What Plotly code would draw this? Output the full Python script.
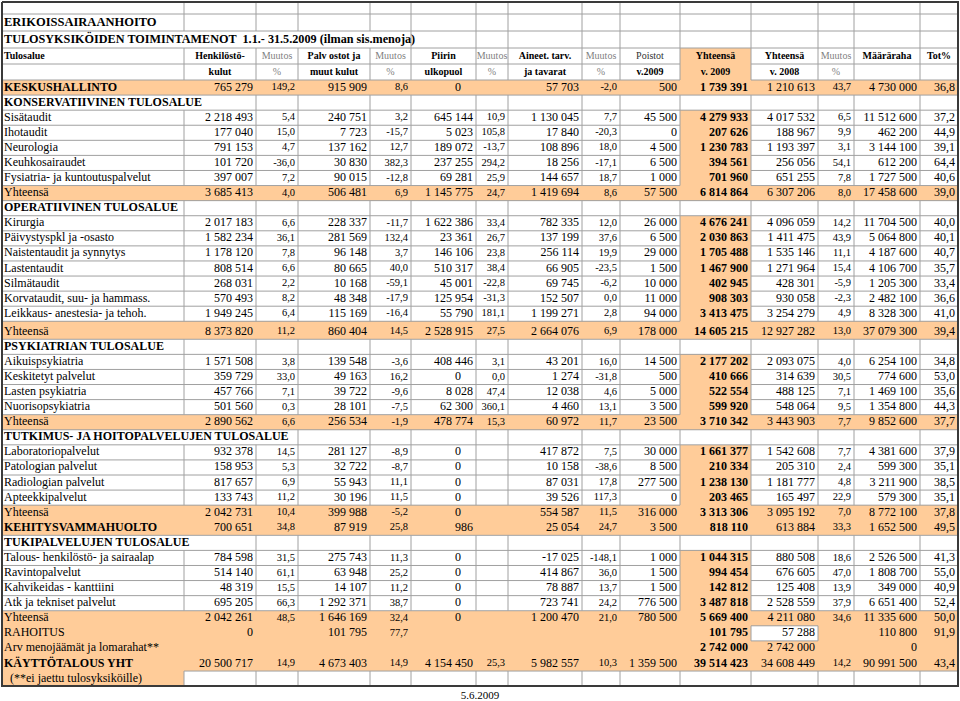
import plotly.graph_objects as go

# ---------------- DATA ----------------
title_1 = "ERIKOISSAIRAANHOITO"
title_2 = "TULOSYKSIKÖIDEN TOIMINTAMENOT  1.1.- 31.5.2009 (ilman sis.menoja)"
date_label = "5.6.2009"

header_top = ["Tulosalue", "Henkilöstö-", "Muutos", "Palv ostot ja", "Muutos", "Piirin", "Muutos",
              "Aineet. tarv.", "Muutos", "Poistot", "Yhteensä", "Yhteensä", "Muutos", "Määräraha", "Tot%"]
header_bottom = ["", "kulut", "%", "muut kulut", "%", "ulkopuol", "%", "ja tavarat", "%",
                 "v.2009", "v. 2009", "v. 2008", "%", "", ""]

row_labels = [
    "KESKUSHALLINTO", "KONSERVATIIVINEN TULOSALUE", "Sisätaudit", "Ihotaudit", "Neurologia",
    "Keuhkosairaudet", "Fysiatria- ja kuntoutuspalvelut", "Yhteensä",
    "OPERATIIVINEN TULOSALUE", "Kirurgia", "Päivystyspkl ja -osasto", "Naistentaudit ja synnytys",
    "Lastentaudit", "Silmätaudit", "Korvataudit, suu- ja hammass.", "Leikkaus- anestesia- ja tehoh.", "Yhteensä",
    "PSYKIATRIAN TULOSALUE", "Aikuispsykiatria", "Keskitetyt palvelut", "Lasten psykiatria",
    "Nuorisopsykiatria", "Yhteensä",
    "TUTKIMUS- JA HOITOPALVELUJEN TULOSALUE", "Laboratoriopalvelut", "Patologian palvelut",
    "Radiologian palvelut", "Apteekkipalvelut", "Yhteensä",
    "KEHITYSVAMMAHUOLTO", "TUKIPALVELUJEN TULOSALUE", "Talous- henkilöstö- ja sairaalap",
    "Ravintopalvelut", "Kahvikeidas - kanttiini", "Atk ja tekniset palvelut", "Yhteensä",
    "RAHOITUS", "Arv menojäämät ja lomarahat**", "KÄYTTÖTALOUS YHT", "  (**ei jaettu tulosyksiköille)",
]

henkilosto = [765279, None, 2218493, 177040, 791153, 101720, 397007, 3685413,
              None, 2017183, 1582234, 1178120, 808514, 268031, 570493, 1949245, 8373820,
              None, 1571508, 359729, 457766, 501560, 2890562,
              None, 932378, 158953, 817657, 133743, 2042731,
              700651, None, 784598, 514140, 48319, 695205, 2042261,
              0, None, 20500717, None]
henkilosto_muutos = [149.2, None, 5.4, 15.0, 4.7, -36.0, 7.2, 4.0,
                     None, 6.6, 36.1, 7.8, 6.6, 2.2, 8.2, 6.4, 11.2,
                     None, 3.8, 33.0, 7.1, 0.3, 6.6,
                     None, 14.5, 5.3, 6.9, 11.2, 10.4,
                     34.8, None, 31.5, 61.1, 15.5, 66.3, 48.5,
                     None, None, 14.9, None]
palvelut = [915909, None, 240751, 7723, 137162, 30830, 90015, 506481,
            None, 228337, 281569, 96148, 80665, 10168, 48348, 115169, 860404,
            None, 139548, 49163, 39722, 28101, 256534,
            None, 281127, 32722, 55943, 30196, 399988,
            87919, None, 275743, 63948, 14107, 1292371, 1646169,
            101795, None, 4673403, None]
palvelut_muutos = [8.6, None, 3.2, -15.7, 12.7, 382.3, -12.8, 6.9,
                   None, -11.7, 132.4, 3.7, 40.0, -59.1, -17.9, -16.4, 14.5,
                   None, -3.6, 16.2, -9.6, -7.5, -1.9,
                   None, -8.9, -8.7, 11.1, 11.5, -5.2,
                   25.8, None, 11.3, 25.2, 11.2, 38.7, 32.4,
                   77.7, None, 14.9, None]
piirin = [0, None, 645144, 5023, 189072, 237255, 69281, 1145775,
          None, 1622386, 23361, 146106, 510317, 45001, 125954, 55790, 2528915,
          None, 408446, 0, 8028, 62300, 478774,
          None, 0, 0, 0, 0, 0,
          986, None, 0, 0, 0, 0, 0,
          None, None, 4154450, None]
piirin_muutos = [None, None, 10.9, 105.8, -13.7, 294.2, 25.9, 24.7,
                 None, 33.4, 26.7, 23.8, 38.4, -22.8, -31.3, 181.1, 27.5,
                 None, 3.1, 0.0, 47.4, 360.1, 15.3,
                 None, None, None, None, None, None,
                 None, None, None, None, None, None, None,
                 None, None, 25.3, None]
aineet = [57703, None, 1130045, 17840, 108896, 18256, 144657, 1419694,
          None, 782335, 137199, 256114, 66905, 69745, 152507, 1199271, 2664076,
          None, 43201, 1274, 12038, 4460, 60972,
          None, 417872, 10158, 87031, 39526, 554587,
          25054, None, -17025, 414867, 78887, 723741, 1200470,
          None, None, 5982557, None]
aineet_muutos = [-2.0, None, 7.7, -20.3, 18.0, -17.1, 18.7, 8.6,
                 None, 12.0, 37.6, 19.9, -23.5, -6.2, 0.0, 2.8, 6.9,
                 None, 16.0, -31.8, 4.6, 13.1, 11.7,
                 None, 7.5, -38.6, 17.8, 117.3, 11.5,
                 24.7, None, -148.1, 36.0, 13.7, 24.2, 21.0,
                 None, None, 10.3, None]
poistot = [500, None, 45500, 0, 4500, 6500, 1000, 57500,
           None, 26000, 6500, 29000, 1500, 10000, 11000, 94000, 178000,
           None, 14500, 500, 5000, 3500, 23500,
           None, 30000, 8500, 277500, 0, 316000,
           3500, None, 1000, 1500, 1500, 776500, 780500,
           None, None, 1359500, None]
yhteensa_2009 = [1739391, None, 4279933, 207626, 1230783, 394561, 701960, 6814864,
                 None, 4676241, 2030863, 1705488, 1467900, 402945, 908303, 3413475, 14605215,
                 None, 2177202, 410666, 522554, 599920, 3710342,
                 None, 1661377, 210334, 1238130, 203465, 3313306,
                 818110, None, 1044315, 994454, 142812, 3487818, 5669400,
                 101795, 2742000, 39514423, None]
yhteensa_2008 = [1210613, None, 4017532, 188967, 1193397, 256056, 651255, 6307206,
                 None, 4096059, 1411475, 1535146, 1271964, 428301, 930058, 3254279, 12927282,
                 None, 2093075, 314639, 488125, 548064, 3443903,
                 None, 1542608, 205310, 1181777, 165497, 3095192,
                 613884, None, 880508, 676605, 125408, 2528559, 4211080,
                 57288, 2742000, 34608449, None]
yhteensa_muutos = [43.7, None, 6.5, 9.9, 3.1, 54.1, 7.8, 8.0,
                   None, 14.2, 43.9, 11.1, 15.4, -5.9, -2.3, 4.9, 13.0,
                   None, 4.0, 30.5, 7.1, 9.5, 7.7,
                   None, 7.7, 2.4, 4.8, 22.9, 7.0,
                   33.3, None, 18.6, 47.0, 13.9, 37.9, 34.6,
                   None, None, 14.2, None]
maararaha = [4730000, None, 11512600, 462200, 3144100, 612200, 1727500, 17458600,
             None, 11704500, 5064800, 4187600, 4106700, 1205300, 2482100, 8328300, 37079300,
             None, 6254100, 774600, 1469100, 1354800, 9852600,
             None, 4381600, 599300, 3211900, 579300, 8772100,
             1652500, None, 2526500, 1808700, 349000, 6651400, 11335600,
             110800, 0, 90991500, None]
tot_pct = [36.8, None, 37.2, 44.9, 39.1, 64.4, 40.6, 39.0,
           None, 40.0, 40.1, 40.7, 35.7, 33.4, 36.6, 41.0, 39.4,
           None, 34.8, 53.0, 35.6, 44.3, 37.7,
           None, 37.9, 35.1, 38.5, 35.1, 37.8,
           49.5, None, 41.3, 55.0, 40.9, 52.4, 50.0,
           91.9, None, 43.4, None]

# ---------------- STYLE / LAYOUT ----------------
row_kind = (["total", "section"] + ["unit"] * 5 + ["total"] +
            ["section"] + ["unit"] * 7 + ["total"] +
            ["section"] + ["unit"] * 4 + ["total"] +
            ["section"] + ["unit"] * 4 + ["total"] +
            ["total", "section"] + ["unit"] * 4 + ["total"] +
            ["rahoitus", "total", "total", "note"])
bold_labels = {"KESKUSHALLINTO", "KEHITYSVAMMAHUOLTO", "KÄYTTÖTALOUS YHT"}
label_span = {"KONSERVATIIVINEN TULOSALUE": 2, "TUTKIMUS- JA HOITOPALVELUJEN TULOSALUE": 3,
              "TUKIPALVELUJEN TULOSALUE": 2}

FONT = "Liberation Serif"
ORANGE = "#FFCC99"
GRID = "#A0A0A0"
BORDER = "#3A3A3A"

col_edges = [2, 184, 256, 298, 370, 411, 476, 508, 582, 620, 680, 751, 818, 854, 920, 958]
NCOL = len(col_edges) - 1
YCOL = 10  # Yhteensä v.2009 column
pct_cols = {2, 4, 6, 8, 12}

row_edges = [2, 14, 31, 48, 64, 80]
ROW_H = 15.08
for i in range(len(row_labels)):
    h = 18 if i == 16 else ROW_H
    row_edges.append(row_edges[-1] + h)
NROW = len(row_edges) - 1
OFF = 5  # data rows start after 5 top rows

value_cols = [henkilosto, henkilosto_muutos, palvelut, palvelut_muutos, piirin, piirin_muutos,
              aineet, aineet_muutos, poistot, yhteensa_2009, yhteensa_2008, yhteensa_muutos,
              maararaha, tot_pct]


def fmt_int(v):
    return "" if v is None else f"{v:,}".replace(",", " ")


def fmt_pct(v):
    return "" if v is None else f"{v:.1f}".replace(".", ",")


# ---- fills ----
fill = []
for r in range(NROW):
    if r < 3:
        row = [0] * NCOL
    elif r < OFF:
        row = [1 if c == YCOL else 0 for c in range(NCOL)]
    else:
        k = row_kind[r - OFF]
        if k in ("total", "rahoitus"):
            row = [1] * NCOL
            if k == "rahoitus":
                row[11] = 0
        elif k == "section":
            row = [0] * NCOL
        elif k == "note":
            row = [1] + [0] * (NCOL - 1)
        else:
            row = [1 if c == YCOL else 0 for c in range(NCOL)]
    fill.append(row)

# span of first-column text (cells covered by overflowing text)
span = []
for r in range(NROW):
    if r == 2:
        span.append(5)
    elif r >= OFF:
        span.append(label_span.get(row_labels[r - OFF], 1))
    else:
        span.append(1)

# ---- grid lines ----
gx, gy = [], []
for b in range(1, NROW):  # horizontal boundaries between row b-1 and b
    y = row_edges[b]
    for c in range(NCOL):
        if fill[b - 1][c] == 1 and fill[b][c] == 1:
            continue
        gx += [col_edges[c], col_edges[c + 1], None]
        gy += [y, y, None]
for r in range(NROW):
    for e in range(1, NCOL):
        if e < span[r]:
            continue
        if fill[r][e - 1] == 1 and fill[r][e] == 1:
            continue
        gx += [col_edges[e], col_edges[e], None]
        gy += [row_edges[r], row_edges[r + 1], None]

# ---- texts ----
texts = {"left": [], "right": [], "center": []}


def add(align, x, y, t, size, color="#000000"):
    texts[align].append((x, y, t, size, color))


def ymid(r):
    return (row_edges[r] + row_edges[r + 1]) / 2


add("left", col_edges[0] + 2, ymid(1), f"<b>{title_1}</b>", 12.5)
add("left", col_edges[0] + 2, ymid(2), f"<b>{title_2}</b>", 12.2)
for c in range(NCOL):
    for r, lab in ((3, header_top[c]), (4, header_bottom[c])):
        if not lab:
            continue
        gray = lab in ("Muutos", "%")
        t = lab if gray or lab == "Poistot" else f"<b>{lab}</b>"
        color = "#7F7F7F" if gray else ("#333333" if lab == "Poistot" else "#000000")
        if c == 0:
            add("left", col_edges[0] + 2, ymid(r), t, 10, color)
        else:
            add("center", (col_edges[c] + col_edges[c + 1]) / 2, ymid(r), t, 10, color)

for i, lab in enumerate(row_labels):
    r = i + OFF
    y = ymid(r) + (1.5 if i == 16 else 0)
    k = row_kind[i]
    bold = k == "section" or lab in bold_labels
    add("left", col_edges[0] + 2, y, f"<b>{lab}</b>" if bold else lab, 12)
    for j, arr in enumerate(value_cols):
        c = j + 1
        v = arr[i]
        if v is None:
            continue
        if c in pct_cols:
            t, size = fmt_pct(v), 10.5
        elif c == 14:
            t, size = fmt_pct(v), 12
        else:
            t, size = fmt_int(v), 12
        if c == YCOL:
            t = f"<b>{t}</b>"
        pad = 3
        if c == 5 and v == 0:
            pad = 15
        add("right", col_edges[c + 1] - pad, y, t, size)

# ---------------- FIGURE ----------------
fig = go.Figure()
fig.add_trace(go.Heatmap(z=fill, x=col_edges, y=row_edges,
                         colorscale=[[0, "#FFFFFF"], [1, ORANGE]], zmin=0, zmax=1,
                         showscale=False, hoverinfo="skip"))
fig.add_trace(go.Scatter(x=gx, y=gy, mode="lines", line=dict(color=GRID, width=1),
                         hoverinfo="skip"))
bx = [col_edges[0], col_edges[-1], col_edges[-1], col_edges[0], col_edges[0]]
by = [row_edges[0], row_edges[0], row_edges[-1], row_edges[-1], row_edges[0]]
fig.add_trace(go.Scatter(x=bx, y=by, mode="lines", line=dict(color=BORDER, width=2),
                         hoverinfo="skip"))

pos = {"left": "middle right", "right": "middle left", "center": "middle center"}
for align, items in texts.items():
    if not items:
        continue
    fig.add_trace(go.Scatter(
        x=[it[0] for it in items], y=[it[1] for it in items],
        text=[it[2] for it in items], mode="text", textposition=pos[align],
        textfont=dict(family=FONT, size=[it[3] for it in items], color=[it[4] for it in items]),
        hoverinfo="skip", cliponaxis=False))

fig.add_trace(go.Scatter(x=[480], y=[row_edges[-1] + 10], text=[date_label], mode="text",
                         textposition="middle center",
                         textfont=dict(family=FONT, size=11, color="#000000"),
                         hoverinfo="skip"))

fig.update_layout(
    width=960, height=701, margin=dict(l=0, r=0, t=0, b=0),
    paper_bgcolor="white", plot_bgcolor="white", showlegend=False,
    xaxis=dict(range=[0, 960], visible=False, fixedrange=True),
    yaxis=dict(range=[701, 0], visible=False, fixedrange=True),
)
fig.write_html("out.html", config={"displayModeBar": False},
               post_script="document.body.style.margin='0';document.body.style.overflow='hidden';")
